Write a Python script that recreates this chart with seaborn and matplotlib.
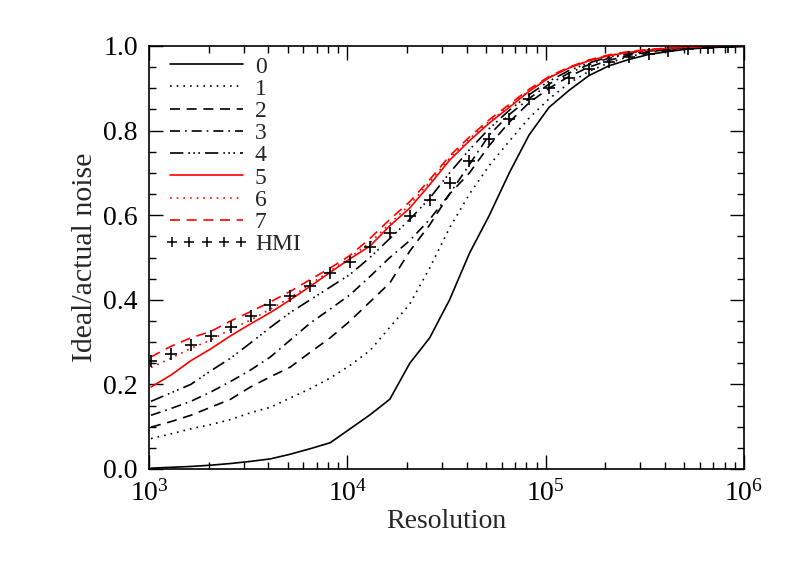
import numpy as np
import pandas as pd
import matplotlib
matplotlib.use("Agg")
import matplotlib.pyplot as plt
import seaborn as sns
from matplotlib.lines import Line2D
from matplotlib.legend_handler import HandlerLine2D
from matplotlib.ticker import LogLocator, MultipleLocator, FormatStrFormatter

resolution = [1024, 1290, 1625, 2048, 2580, 3251, 4096, 5161, 6502, 8192,
              10321, 13004, 16384, 20643, 26008, 32768, 41285, 52016, 65536, 82570,
              104032, 131072, 165140, 208064, 262144, 330281, 416128, 524288, 660561, 832255,
              1048576]

curve0 = [0.002, 0.004, 0.006, 0.009, 0.013, 0.018, 0.024, 0.035, 0.048, 0.062,
          0.095, 0.128, 0.165, 0.250, 0.310, 0.400, 0.510, 0.600, 0.700, 0.790,
          0.855, 0.895, 0.930, 0.953, 0.968, 0.980, 0.987, 0.993, 0.996, 0.998, 0.999]
curve1 = [0.072, 0.083, 0.095, 0.105, 0.117, 0.133, 0.146, 0.168, 0.190, 0.215,
          0.245, 0.280, 0.335, 0.390, 0.475, 0.570, 0.650, 0.718, 0.775, 0.830,
          0.875, 0.912, 0.940, 0.960, 0.975, 0.985, 0.991, 0.995, 0.997, 0.999, 1.000]
curve2 = [0.099, 0.112, 0.127, 0.146, 0.165, 0.194, 0.218, 0.241, 0.276, 0.310,
          0.350, 0.395, 0.440, 0.515, 0.577, 0.650, 0.700, 0.765, 0.820, 0.866,
          0.900, 0.928, 0.950, 0.966, 0.978, 0.986, 0.992, 0.996, 0.998, 0.999, 1.000]
curve3 = [0.127, 0.143, 0.160, 0.182, 0.207, 0.234, 0.265, 0.305, 0.345, 0.378,
          0.412, 0.455, 0.500, 0.540, 0.590, 0.650, 0.720, 0.790, 0.838, 0.876,
          0.910, 0.936, 0.956, 0.971, 0.981, 0.988, 0.993, 0.996, 0.998, 0.999, 1.000]
curve4 = [0.160, 0.180, 0.200, 0.232, 0.262, 0.298, 0.335, 0.370, 0.400, 0.430,
          0.460, 0.500, 0.545, 0.590, 0.640, 0.700, 0.755, 0.805, 0.848, 0.885,
          0.917, 0.942, 0.960, 0.974, 0.983, 0.990, 0.994, 0.997, 0.998, 0.999, 1.000]
curve5 = [0.194, 0.222, 0.256, 0.284, 0.315, 0.343, 0.370, 0.400, 0.432, 0.465,
          0.497, 0.527, 0.575, 0.617, 0.672, 0.730, 0.776, 0.818, 0.855, 0.893,
          0.925, 0.948, 0.965, 0.977, 0.985, 0.990, 0.995, 0.997, 0.999, 1.000, 1.000]
curve6 = [0.240, 0.262, 0.285, 0.305, 0.330, 0.352, 0.378, 0.405, 0.437, 0.468,
          0.500, 0.535, 0.580, 0.625, 0.678, 0.735, 0.780, 0.822, 0.858, 0.895,
          0.926, 0.949, 0.966, 0.978, 0.986, 0.991, 0.995, 0.997, 0.999, 1.000, 1.000]
curve7 = [0.265, 0.290, 0.310, 0.325, 0.350, 0.372, 0.395, 0.420, 0.448, 0.475,
          0.505, 0.545, 0.590, 0.632, 0.684, 0.740, 0.785, 0.826, 0.862, 0.898,
          0.928, 0.950, 0.967, 0.979, 0.987, 0.992, 0.995, 0.998, 0.999, 1.000, 1.000]
hmi = [0.255, 0.272, 0.293, 0.314, 0.336, 0.362, 0.388, 0.409, 0.433, 0.463,
       0.489, 0.525, 0.558, 0.598, 0.636, 0.676, 0.728, 0.780, 0.827, 0.875,
       0.900, 0.925, 0.945, 0.962, 0.973, 0.981, 0.987, 0.992, 0.996, 0.998]

labels = ["0", "1", "2", "3", "4", "5", "6", "7"]
series = [curve0, curve1, curve2, curve3, curve4, curve5, curve6, curve7]

sns.set_style("ticks")
plt.rcParams["font.family"] = ["Liberation Serif", "DejaVu Serif"]
plt.rcParams["mathtext.fontset"] = "stix"

styles = [
    ("black", "-"),
    ("black", (0, (1, 3))),
    ("black", (0, (6, 4))),
    ("black", (0, (6, 3, 1, 3))),
    ("black", (0, (8, 3, 1, 2, 1, 2, 1, 3))),
    ("red", "-"),
    ("red", (0, (1, 3))),
    ("red", (0, (6, 4))),
]

fig = plt.figure(figsize=(7.89, 5.64), dpi=100)
ax = fig.add_axes([149 / 789, 1 - 469 / 564, 595 / 789, 423 / 564])

handles = []
for lab, ys, (col, ls) in zip(labels, series, styles):
    df = pd.DataFrame({"x": resolution, "y": ys})
    sns.lineplot(data=df, x="x", y="y", ax=ax, color=col, linestyle=ls,
                 linewidth=1.2, errorbar=None, sort=False, legend=False)
    handles.append(Line2D([], [], color=col, linestyle=ls, linewidth=1.2, label=lab))

dfh = pd.DataFrame({"x": resolution[:len(hmi)], "y": hmi})
sns.scatterplot(data=dfh, x="x", y="y", ax=ax, color="black", marker="+",
                s=75, linewidth=1.2, zorder=3, legend=False)
hmi_handle = Line2D([], [], color="black", linestyle="none", marker="+",
                    markersize=7.5, markeredgewidth=1.1, label="HMI")
handles.append(hmi_handle)

ax.set_xscale("log")
ax.set_xlim(1e3, 1e6)
ax.set_ylim(0.0, 1.0)
ax.xaxis.set_major_locator(LogLocator(base=10, numticks=10))
ax.xaxis.set_minor_locator(LogLocator(base=10, subs=np.arange(2, 10), numticks=100))
ax.yaxis.set_major_locator(MultipleLocator(0.2))
ax.yaxis.set_minor_locator(MultipleLocator(0.05))
ax.yaxis.set_major_formatter(FormatStrFormatter("%.1f"))

ax.tick_params(which="both", direction="in", top=True, right=True, width=1.0,
               colors="black", labelsize=20)
ax.tick_params(which="major", length=10, pad=8)
ax.tick_params(which="minor", length=5)
for sp in ax.spines.values():
    sp.set_linewidth(1.2)
    sp.set_color("black")
    sp.set_visible(True)

ax.set_xlabel("Resolution", fontsize=20, labelpad=2)
ax.set_ylabel("Ideal/actual noise", fontsize=21.5, labelpad=4)

leg = ax.legend(handles=handles, loc="upper left", frameon=False, fontsize=17,
                numpoints=1, handlelength=3.1, handletextpad=0.5, labelspacing=0.03,
                borderaxespad=0.15, bbox_to_anchor=(8 / 595, 1 + 3 / 423),
                handler_map={hmi_handle: HandlerLine2D(marker_pad=0.1, numpoints=5)})

fig.savefig("out.png", dpi=100)
